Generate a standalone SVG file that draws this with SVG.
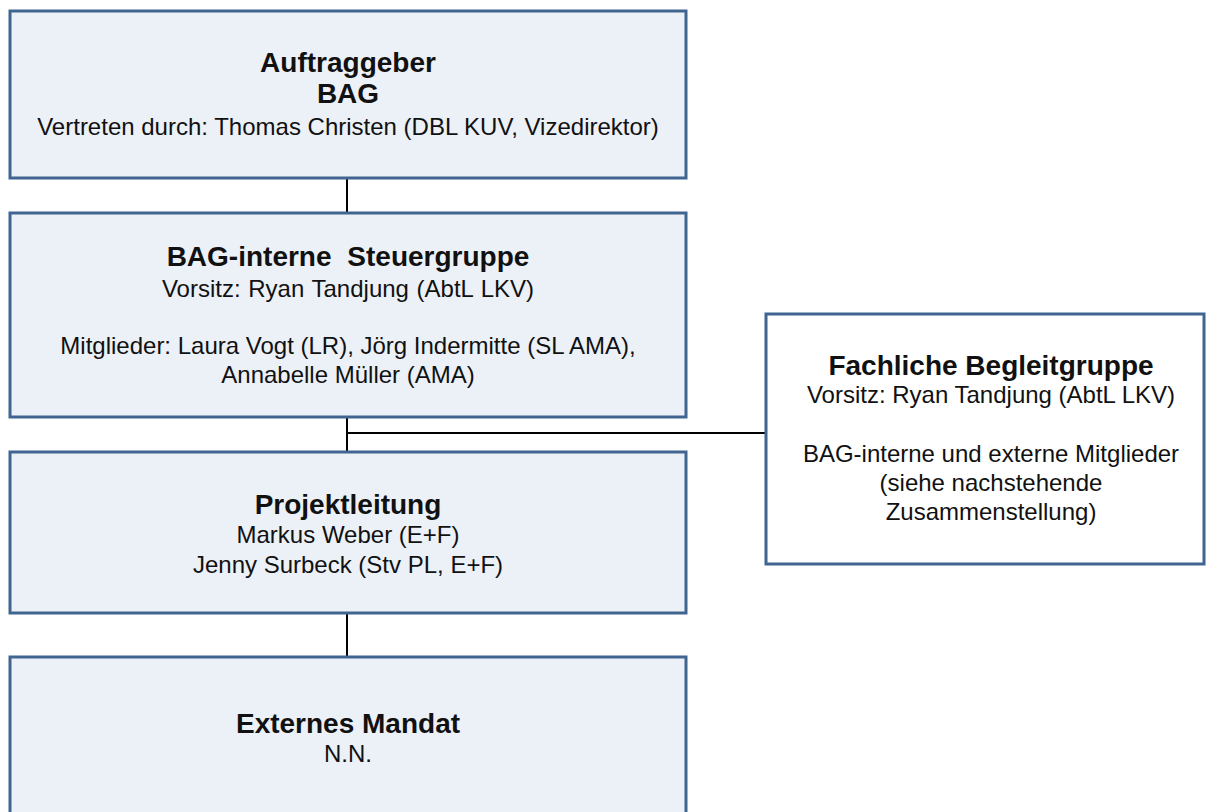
<svg xmlns="http://www.w3.org/2000/svg" width="1206" height="812" viewBox="0 0 1206 812">
<style>
.box{fill:#ECF0F7;stroke:#416591;stroke-width:3}
.wbox{fill:#FFFFFF;stroke:#416591;stroke-width:3}
.t{font-family:"Liberation Sans",Arial,sans-serif;font-size:28px;font-weight:bold;fill:#111;text-anchor:middle}
.b{font-family:"Liberation Sans",Arial,sans-serif;font-size:24px;fill:#111;text-anchor:middle}
.c{stroke:#000;stroke-width:2;fill:none}
</style>
<rect width="1206" height="812" fill="#FFFFFF"/>
<g id="connectors">
<line class="c" x1="347" y1="178" x2="347" y2="212"/>
<line class="c" x1="347" y1="416" x2="347" y2="452"/>
<line class="c" x1="347" y1="433" x2="765" y2="433"/>
<line class="c" x1="347" y1="613" x2="347" y2="656"/>
</g>
<g id="auftraggeber">
<rect class="box" x="10" y="11" width="676" height="167"/>
<text class="t" x="348" y="72">Auftraggeber</text>
<text class="t" x="348" y="103">BAG</text>
<text class="b" x="348" y="135">Vertreten durch: Thomas Christen (DBL KUV, Vizedirektor)</text>
</g>
<g id="steuergruppe">
<rect class="box" x="10" y="213" width="676" height="204"/>
<text class="t" x="348" y="266" word-spacing="8">BAG-interne Steuergruppe</text>
<text class="b" x="348" y="297" word-spacing="1">Vorsitz: Ryan Tandjung (AbtL LKV)</text>
<text class="b" x="348" y="354">Mitglieder: Laura Vogt (LR), Jörg Indermitte (SL AMA),</text>
<text class="b" x="348" y="383">Annabelle Müller (AMA)</text>
</g>
<g id="projektleitung">
<rect class="box" x="10" y="452" width="676" height="161"/>
<text class="t" x="348" y="514">Projektleitung</text>
<text class="b" x="348" y="543">Markus Weber (E+F)</text>
<text class="b" x="348" y="573">Jenny Surbeck (Stv PL, E+F)</text>
</g>
<g id="externes-mandat">
<rect class="box" x="10" y="657" width="676" height="180"/>
<text class="t" x="348" y="733">Externes Mandat</text>
<text class="b" x="348" y="762">N.N.</text>
</g>
<g id="begleitgruppe">
<rect class="wbox" x="766" y="314" width="438" height="250"/>
<text class="t" x="991" y="375">Fachliche Begleitgruppe</text>
<text class="b" x="991" y="403">Vorsitz: Ryan Tandjung (AbtL LKV)</text>
<text class="b" x="991" y="462">BAG-interne und externe Mitglieder</text>
<text class="b" x="991" y="491">(siehe nachstehende</text>
<text class="b" x="991" y="520">Zusammenstellung)</text>
</g>
</svg>
